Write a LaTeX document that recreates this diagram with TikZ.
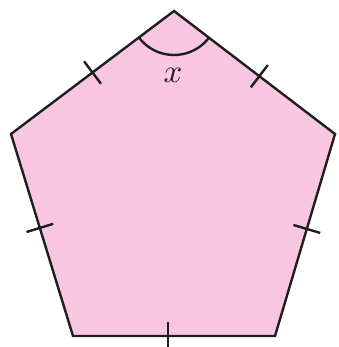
\documentclass[tikz,border=0pt]{standalone}
\usetikzlibrary{calc}
\definecolor{pentpink}{RGB}{248,198,224}
\definecolor{ink}{RGB}{30,30,30}
\tikzset{
  edge/.style={draw=ink,line width=2.4pt,line join=miter},
  tick/.style={draw=ink,line width=2.4pt},
  anglearc/.style={draw=ink,line width=2.4pt}
}
\begin{document}
\begin{tikzpicture}[x=1pt,y=-1pt]
\useasboundingbox (0,0) rectangle (338,347);
\coordinate (T) at (174,11);
\coordinate (UL) at (11,134);
\coordinate (UR) at (335,134);
\coordinate (BL) at (73,336);
\coordinate (BR) at (275,336);
\fill[pentpink] (T) -- (UR) -- (BR) -- (BL) -- (UL) -- cycle;
% angle arc
\begin{scope}
\clip (T) -- (UR) -- (BR) -- (BL) -- (UL) -- cycle;
\draw[anglearc] (T) circle[radius=44];
\end{scope}
\fill[pentpink] (T) -- ($(T)!44pt!(UL)$) -- ($(T)!44pt!(UR)$) -- cycle;
\draw[edge] (T) -- (UR) -- (BR) -- (BL) -- (UL) -- cycle;
% ticks
\draw[tick] ($(UL)!0.5!(T)!14pt!90:(T)$) -- ($(UL)!0.5!(T)!14pt!-90:(T)$);
\draw[tick] ($(T)!0.53!(UR)!14pt!90:(UR)$) -- ($(T)!0.53!(UR)!14pt!-90:(UR)$);
\draw[tick] ($(UL)!0.465!(BL)!14pt!90:(BL)$) -- ($(UL)!0.465!(BL)!14pt!-90:(BL)$);
\draw[tick] ($(UR)!0.47!(BR)!14pt!90:(BR)$) -- ($(UR)!0.47!(BR)!14pt!-90:(BR)$);
\draw[tick] ($(BL)!0.47!(BR)!14pt!90:(BR)$) -- ($(BL)!0.47!(BR)!14pt!-90:(BR)$);
\node[text=ink,scale=3.3,inner sep=0pt] (xlab) at (173,75) {$x$};
\end{tikzpicture}
\end{document}
